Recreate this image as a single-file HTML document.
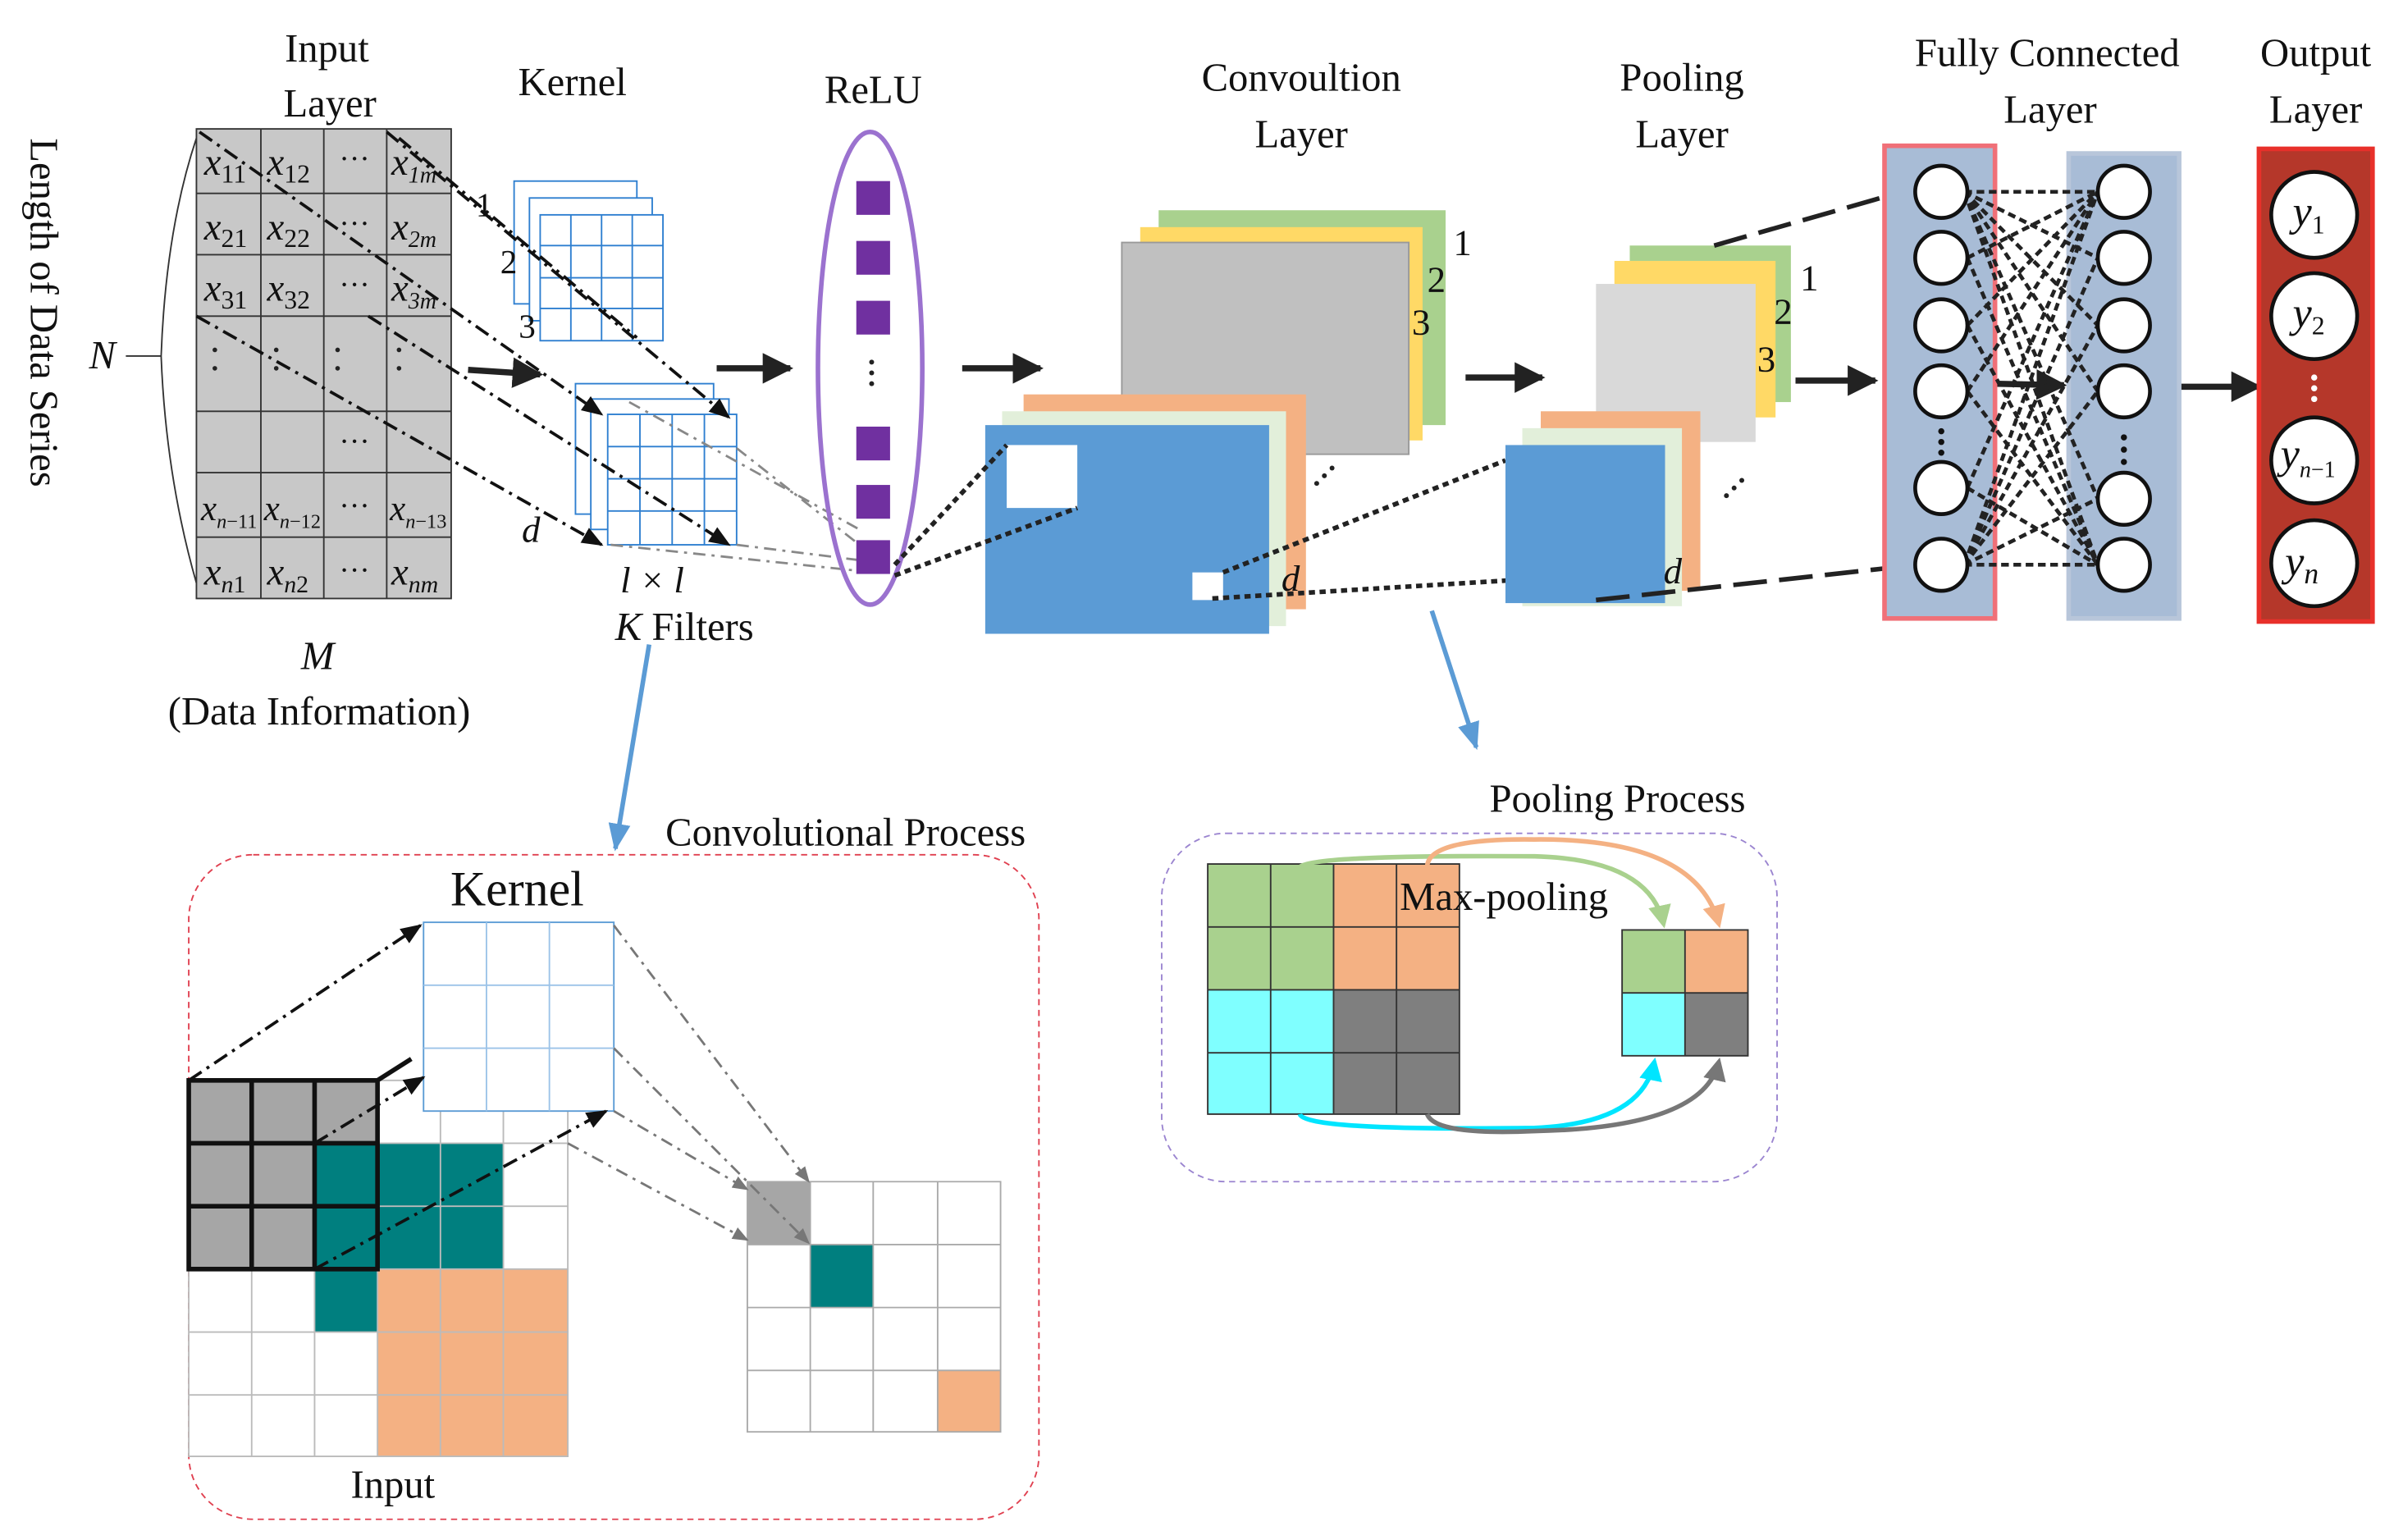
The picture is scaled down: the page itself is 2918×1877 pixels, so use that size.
<!DOCTYPE html>
<html><head><meta charset="utf-8"><style>
html,body{margin:0;padding:0;background:#fff}
svg{display:block}
text{font-family:"Liberation Serif",serif;fill:#111}
</style></head><body>
<svg width="2918" height="1877" viewBox="0 0 1560 1003.5" preserveAspectRatio="none" xmlns="http://www.w3.org/2000/svg">
<defs>
<marker id="ab" viewBox="0 0 10 10" refX="9" refY="5" markerWidth="5" markerHeight="5" orient="auto"><path d="M0,0L10,5L0,10z" fill="#222"/></marker>
<marker id="as" viewBox="0 0 10 10" refX="9" refY="5" markerWidth="7" markerHeight="7" orient="auto"><path d="M0,1L10,5L0,9z" fill="#111"/></marker>
<marker id="ag" viewBox="0 0 10 10" refX="9" refY="5" markerWidth="7" markerHeight="7" orient="auto"><path d="M0,1L10,5L0,9z" fill="#777"/></marker>
<marker id="abl" viewBox="0 0 10 10" refX="9" refY="5" markerWidth="6" markerHeight="6" orient="auto"><path d="M0,1L10,5L0,9z" fill="#5b9bd5"/></marker>
<marker id="mg" viewBox="0 0 10 10" refX="8" refY="5" markerWidth="5" markerHeight="5" orient="auto"><path d="M0,0L10,5L0,10z" fill="#a9d18e"/></marker>
<marker id="mo" viewBox="0 0 10 10" refX="8" refY="5" markerWidth="5" markerHeight="5" orient="auto"><path d="M0,0L10,5L0,10z" fill="#f4b183"/></marker>
<marker id="mc" viewBox="0 0 10 10" refX="8" refY="5" markerWidth="5" markerHeight="5" orient="auto"><path d="M0,0L10,5L0,10z" fill="#00e5ff"/></marker>
<marker id="mk" viewBox="0 0 10 10" refX="8" refY="5" markerWidth="5" markerHeight="5" orient="auto"><path d="M0,0L10,5L0,10z" fill="#777"/></marker>
</defs>

<g font-size="26" text-anchor="middle">
<text x="213" y="40">Input</text><text x="215" y="76">Layer</text>
<text x="373" y="62">Kernel</text>
<text x="569" y="67">ReLU</text>
<text x="848" y="59">Convoultion</text><text x="848" y="96">Layer</text>
<text x="1096" y="59">Pooling</text><text x="1096" y="96">Layer</text>
<text x="1334" y="43">Fully Connected</text><text x="1336" y="80">Layer</text>
<text x="1509" y="43">Output</text><text x="1509" y="80">Layer</text>
</g>
<text x="0" y="0" font-size="26" transform="translate(20,90) rotate(90)">Length of Data Series</text>
<text x="58" y="240" font-size="26" font-style="italic">N</text>
<path d="M82,232 H105 M105,232 Q108,150 128,90 M105,232 Q108,310 128,380" stroke="#333" fill="none" stroke-width="1"/>

<rect x="128" y="84" width="166" height="306" fill="#c8c8c8" stroke="#333"/>
<g stroke="#333" stroke-width="1">
<line x1="170" y1="84" x2="170" y2="390"/><line x1="211" y1="84" x2="211" y2="390"/><line x1="252" y1="84" x2="252" y2="390"/>
<line x1="128" y1="126" x2="294" y2="126"/><line x1="128" y1="166" x2="294" y2="166"/><line x1="128" y1="206" x2="294" y2="206"/>
<line x1="128" y1="268" x2="294" y2="268"/><line x1="128" y1="308" x2="294" y2="308"/><line x1="128" y1="350" x2="294" y2="350"/>
</g>
<g font-size="25" font-style="italic">
<text x="133" y="114">x<tspan font-size="17" font-style="normal" dy="5">11</tspan></text>
<text x="174" y="114">x<tspan font-size="17" font-style="normal" dy="5">12</tspan></text>
<text x="255" y="114">x<tspan font-size="15" dy="5">1m</tspan></text>
<text x="133" y="156">x<tspan font-size="17" font-style="normal" dy="5">21</tspan></text>
<text x="174" y="156">x<tspan font-size="17" font-style="normal" dy="5">22</tspan></text>
<text x="255" y="156">x<tspan font-size="15" dy="5">2m</tspan></text>
<text x="133" y="196">x<tspan font-size="17" font-style="normal" dy="5">31</tspan></text>
<text x="174" y="196">x<tspan font-size="17" font-style="normal" dy="5">32</tspan></text>
<text x="255" y="196">x<tspan font-size="15" dy="5">3m</tspan></text>
<text x="131" y="339" font-size="23">x<tspan font-size="13" dy="5">n</tspan><tspan font-size="13" font-style="normal">−11</tspan></text>
<text x="172" y="339" font-size="23">x<tspan font-size="13" dy="5">n</tspan><tspan font-size="13" font-style="normal">−12</tspan></text>
<text x="254" y="339" font-size="23">x<tspan font-size="13" dy="5">n</tspan><tspan font-size="13" font-style="normal">−13</tspan></text>
<text x="133" y="381">x<tspan font-size="16" dy="5">n</tspan><tspan font-size="16" font-style="normal">1</tspan></text>
<text x="174" y="381">x<tspan font-size="16" dy="5">n</tspan><tspan font-size="16" font-style="normal">2</tspan></text>
<text x="255" y="381">x<tspan font-size="16" dy="5">nm</tspan></text>
</g>
<g font-size="20" text-anchor="middle"><text x="231" y="110">···</text><text x="231" y="152">···</text><text x="231" y="192">···</text><text x="231" y="294">···</text><text x="231" y="336">···</text><text x="231" y="378">···</text></g>
<g fill="#222"><circle cx="140" cy="228" r="1.5"/><circle cx="140" cy="240" r="1.5"/><circle cx="180" cy="228" r="1.5"/><circle cx="180" cy="240" r="1.5"/><circle cx="220" cy="228" r="1.5"/><circle cx="220" cy="240" r="1.5"/><circle cx="260" cy="228" r="1.5"/><circle cx="260" cy="240" r="1.5"/></g>
<text x="207" y="436" font-size="26" font-style="italic" text-anchor="middle">M</text>
<text x="208" y="472" font-size="26" text-anchor="middle">(Data Information)</text>

<g fill="#fff" stroke="#2e7fd0" stroke-width="1">
<rect x="335" y="118" width="80" height="80"/><rect x="345" y="129" width="80" height="80"/><rect x="352" y="140" width="80" height="82"/>
<path d="M352,160H432M352,181H432M352,201H432M372,140V222M392,140V222M412,140V222" fill="none"/>
</g>
<g font-size="22"><text x="310" y="141">1</text><text x="326" y="178">2</text><text x="338" y="220">3</text></g>
<g fill="#fff" stroke="#2e7fd0" stroke-width="1">
<rect x="375" y="250" width="90" height="85"/><rect x="385" y="260" width="90" height="85"/><rect x="396" y="270" width="84" height="85"/>
<path d="M417,270V355M438,270V355M459,270V355M396,291H480M396,312H480M396,333H480" fill="none"/>
</g>
<text x="340" y="353" font-size="24" font-style="italic">d</text>
<text x="425" y="386" font-size="24" text-anchor="middle" font-style="italic">l × l</text>
<text x="446" y="417" font-size="26" text-anchor="middle"><tspan font-style="italic">K</tspan> Filters</text>
<g stroke="#111" stroke-width="2" stroke-dasharray="10,4,2,4" fill="none">
<line x1="130" y1="86" x2="392" y2="270" marker-end="url(#as)"/>
<line x1="252" y1="86" x2="475" y2="272" marker-end="url(#as)"/>
<line x1="128" y1="206" x2="392" y2="355" marker-end="url(#as)"/>
<line x1="240" y1="206" x2="475" y2="355" marker-end="url(#as)"/>
<line x1="260" y1="90" x2="415" y2="220"/>
</g>
<g stroke="#888" stroke-width="1.5" stroke-dasharray="8,4,2,4" fill="none">
<line x1="410" y1="262" x2="560" y2="345"/><line x1="480" y1="292" x2="560" y2="355"/><line x1="480" y1="355" x2="560" y2="365"/><line x1="398" y1="355" x2="560" y2="372"/>
</g>

<g stroke="#222" stroke-width="4" marker-end="url(#ab)">
<line x1="305" y1="241" x2="352" y2="244"/><line x1="467" y1="240" x2="515" y2="240"/><line x1="627" y1="240" x2="678" y2="240"/>
<line x1="955" y1="246" x2="1005" y2="246"/><line x1="1170" y1="248" x2="1222" y2="248"/><line x1="1298" y1="250" x2="1345" y2="251"/><line x1="1420" y1="252" x2="1472" y2="252"/>
</g>

<ellipse cx="567" cy="240" rx="34" ry="154" fill="none" stroke="#9b72cf" stroke-width="3"/>
<g fill="#7030a0"><rect x="558" y="118" width="22" height="22"/><rect x="558" y="157" width="22" height="22"/><rect x="558" y="196" width="22" height="22"/><rect x="558" y="278" width="22" height="22"/><rect x="558" y="316" width="22" height="22"/><rect x="558" y="352" width="22" height="22"/></g>
<g fill="#222"><circle cx="568" cy="236" r="1.6"/><circle cx="568" cy="243" r="1.6"/><circle cx="568" cy="250" r="1.6"/></g>

<rect x="755" y="137" width="187" height="140" fill="#a9d18e"/>
<rect x="743" y="148" width="184" height="139" fill="#ffd966"/>
<rect x="731" y="158" width="187" height="138" fill="#c0c0c0" stroke="#999"/>
<g font-size="24"><text x="947" y="166">1</text><text x="930" y="190">2</text><text x="920" y="218">3</text></g>
<rect x="667" y="257" width="184" height="140" fill="#f4b183"/>
<rect x="653" y="268" width="185" height="140" fill="#e2efda"/>
<rect x="642" y="277" width="185" height="136" fill="#5b9bd5"/>
<rect x="656" y="290" width="46" height="41" fill="#fff"/>
<rect x="777" y="373" width="20" height="18" fill="#fff"/>
<text x="835" y="385" font-size="24" font-style="italic">d</text>
<g fill="#222"><circle cx="858" cy="315" r="1.6"/><circle cx="863" cy="310" r="1.6"/><circle cx="868" cy="305" r="1.6"/></g>
<g stroke="#222" stroke-width="3" stroke-dasharray="4,3" fill="none">
<line x1="583" y1="368" x2="656" y2="290"/><line x1="583" y1="375" x2="702" y2="331"/>
<line x1="797" y1="373" x2="981" y2="300"/><line x1="790" y1="390" x2="1085" y2="372"/>
</g>

<rect x="1062" y="160" width="105" height="102" fill="#a9d18e"/>
<rect x="1052" y="170" width="105" height="102" fill="#ffd966"/>
<rect x="1040" y="185" width="104" height="103" fill="#d9d9d9"/>
<g font-size="24"><text x="1173" y="189">1</text><text x="1156" y="211">2</text><text x="1145" y="242">3</text></g>
<rect x="1004" y="268" width="104" height="117" fill="#f4b183"/>
<rect x="992" y="279" width="104" height="116" fill="#e2efda"/>
<rect x="981" y="290" width="104" height="103" fill="#5b9bd5"/>
<text x="1084" y="380" font-size="24" font-style="italic">d</text>
<g fill="#222"><circle cx="1125" cy="323" r="1.6"/><circle cx="1130" cy="318" r="1.6"/><circle cx="1135" cy="313" r="1.6"/></g>
<g stroke="#222" stroke-width="3" stroke-dasharray="22,8" fill="none">
<line x1="1117" y1="160" x2="1250" y2="122"/><line x1="1040" y1="391" x2="1250" y2="368"/>
</g>

<rect x="1228" y="95" width="72" height="308" fill="#a8bcd6" stroke="#f07078" stroke-width="3"/>
<rect x="1348" y="100" width="72" height="303" fill="#a8bcd6" stroke="#b8c6da" stroke-width="3"/>
<g stroke="#222" stroke-width="2.5" stroke-dasharray="5,3" fill="none">
<path d="M1280,125L1367,125M1280,125L1367,168M1280,125L1367,212M1280,125L1367,255M1280,125L1367,325M1280,125L1367,368"/>
<path d="M1280,368L1367,125M1280,368L1367,168M1280,368L1367,212M1280,368L1367,255M1280,368L1367,325M1280,368L1367,368"/>
<path d="M1282,168L1367,125M1282,212L1367,125M1282,255L1367,125M1282,318L1367,125M1282,168L1367,368M1282,212L1367,368M1282,255L1367,368M1282,318L1367,368"/>
</g>
<g fill="#fff" stroke="#111" stroke-width="2.5">
<circle cx="1265" cy="125" r="17"/><circle cx="1265" cy="168" r="17"/><circle cx="1265" cy="212" r="17"/><circle cx="1265" cy="255" r="17"/><circle cx="1265" cy="318" r="17"/><circle cx="1265" cy="368" r="17"/>
<circle cx="1384" cy="125" r="17"/><circle cx="1384" cy="168" r="17"/><circle cx="1384" cy="212" r="17"/><circle cx="1384" cy="255" r="17"/><circle cx="1384" cy="325" r="17"/><circle cx="1384" cy="368" r="17"/>
</g>
<g fill="#111"><circle cx="1265" cy="281" r="2"/><circle cx="1265" cy="288" r="2"/><circle cx="1265" cy="295" r="2"/><circle cx="1384" cy="285" r="2"/><circle cx="1384" cy="293" r="2"/><circle cx="1384" cy="301" r="2"/></g>
<rect x="1472" y="97" width="74" height="308" fill="#b5372a" stroke="#e8302a" stroke-width="3"/>
<g fill="#fff" stroke="#111" stroke-width="2.5">
<circle cx="1508" cy="140" r="28"/><circle cx="1508" cy="206" r="28"/><circle cx="1508" cy="300" r="28"/><circle cx="1508" cy="367" r="28"/>
</g>
<g fill="#fff"><circle cx="1508" cy="246" r="2"/><circle cx="1508" cy="253" r="2"/><circle cx="1508" cy="260" r="2"/></g>
<g font-size="28" font-style="italic">
<text x="1494" y="147">y<tspan font-size="17" font-style="normal" dy="5">1</tspan></text>
<text x="1494" y="213">y<tspan font-size="17" font-style="normal" dy="5">2</tspan></text>
<text x="1486" y="305">y<tspan font-size="15" dy="6">n</tspan><tspan font-size="15" font-style="normal">−1</tspan></text>
<text x="1489" y="375">y<tspan font-size="19" dy="5">n</tspan></text>
</g>

<line x1="423" y1="420" x2="401" y2="553" stroke="#5b9bd5" stroke-width="3" marker-end="url(#abl)"/>
<line x1="933" y1="398" x2="962" y2="487" stroke="#5b9bd5" stroke-width="3" marker-end="url(#abl)"/>

<rect x="123" y="557" width="554" height="433" rx="42" fill="none" stroke="#e04050" stroke-width="1" stroke-dasharray="4,3"/>
<text x="551" y="551" font-size="26" text-anchor="middle">Convolutional Process</text>
<text x="337" y="590" font-size="32" text-anchor="middle" font-family="Liberation Sans, sans-serif">Kernel</text>
<rect x="123" y="704" width="247" height="245" fill="#fff"/>
<rect x="123" y="704" width="123" height="123" fill="#a6a6a6"/>
<rect x="205" y="745" width="123" height="123" fill="#007f7f"/>
<rect x="246" y="827" width="124" height="122" fill="#f4b183"/>
<g stroke="#bbb" stroke-width="1" fill="none">
<path d="M123,704H370V949H123Z M164,704V949M205,704V949M246,704V949M287,704V949M328,704V949 M123,745H370M123,786H370M123,827H370M123,868H370M123,909H370"/>
</g>
<path d="M123,704H246V827H123Z M164,704V827M205,704V827M123,745H246M123,786H246 M246,704L268,690" stroke="#111" stroke-width="3" fill="none"/>
<rect x="276" y="601" width="124" height="123" fill="#fff" stroke="#5b9bd5"/>
<path d="M317,601V724M358,601V724M276,642H400M276,683H400" stroke="#9cc3e8" stroke-width="1"/>
<g stroke="#111" stroke-width="2" stroke-dasharray="10,4,2,4" fill="none">
<line x1="123" y1="704" x2="274" y2="603" marker-end="url(#as)"/>
<line x1="205" y1="745" x2="276" y2="702" marker-end="url(#as)"/>
<line x1="205" y1="827" x2="395" y2="724" marker-end="url(#as)"/>
</g>
<rect x="487" y="770" width="165" height="163" fill="#fff"/>
<rect x="487" y="770" width="41" height="41" fill="#a6a6a6"/>
<rect x="528" y="811" width="41" height="41" fill="#007f7f"/>
<rect x="611" y="893" width="41" height="40" fill="#f4b183"/>
<path d="M487,770H652V933H487Z M528,770V933M569,770V933M611,770V933M487,811H652M487,852H652M487,893H652" stroke="#aaa" fill="none"/>
<g stroke="#777" stroke-width="1.5" stroke-dasharray="8,4,2,4" fill="none">
<line x1="400" y1="603" x2="527" y2="770" marker-end="url(#ag)"/>
<line x1="400" y1="683" x2="527" y2="810" marker-end="url(#ag)"/>
<line x1="400" y1="724" x2="487" y2="775" marker-end="url(#ag)"/>
<line x1="370" y1="745" x2="487" y2="808" marker-end="url(#ag)"/>
</g>
<text x="256" y="976" font-size="26" text-anchor="middle">Input</text>

<rect x="757" y="543" width="401" height="227" rx="42" fill="none" stroke="#9b85d0" stroke-width="1" stroke-dasharray="4,3"/>
<text x="1054" y="529" font-size="26" text-anchor="middle">Pooling Process</text>
<rect x="787" y="563" width="82" height="82" fill="#a9d18e"/>
<rect x="869" y="563" width="82" height="82" fill="#f4b183"/>
<rect x="787" y="645" width="82" height="81" fill="#7fffff"/>
<rect x="869" y="645" width="82" height="81" fill="#7f7f7f"/>
<path d="M787,563H951V726H787Z M828,563V726M869,563V726M910,563V726M787,604H951M787,645H951M787,686H951" stroke="#333" stroke-width="1" fill="none"/>
<rect x="1057" y="606" width="41" height="41" fill="#a9d18e"/>
<rect x="1098" y="606" width="41" height="41" fill="#f4b183"/>
<rect x="1057" y="647" width="41" height="41" fill="#7fffff"/>
<rect x="1098" y="647" width="41" height="41" fill="#7f7f7f"/>
<path d="M1057,606H1139V688H1057Z M1098,606V688M1057,647H1139" stroke="#333" fill="none"/>
<g fill="none" stroke-width="3">
<path d="M847,565 Q855,557 1000,558 Q1075,560 1084,602" stroke="#a9d18e" marker-end="url(#mg)"/>
<path d="M930,565 Q930,546 1000,547 Q1105,546 1120,602" stroke="#f4b183" marker-end="url(#mo)"/>
<path d="M847,726 Q850,737 1000,735 Q1070,732 1078,692" stroke="#00e5ff" marker-end="url(#mc)"/>
<path d="M930,726 Q935,740 1000,737 Q1110,735 1120,692" stroke="#777" marker-end="url(#mk)"/>
</g>
<text x="980" y="593" font-size="26" text-anchor="middle">Max-pooling</text>
</svg>
</body></html>
